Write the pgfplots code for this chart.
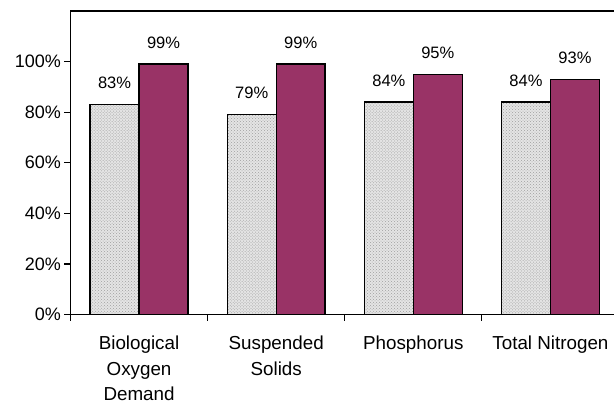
\documentclass[border=0pt]{standalone}
\usepackage{pgfplots}
\pgfplotsset{compat=1.18}
\usepackage{fontspec}
\setmainfont{Liberation Sans}
\usetikzlibrary{patterns}
\definecolor{effluent}{HTML}{993366}
\definecolor{dotfill}{HTML}{E4E4E4}

\begin{document}
\begin{tikzpicture}
\begin{axis}[
  scale only axis,
  width=548.5bp, height=303.5bp,
  xmin=-0.5, xmax=3.5,
  ymin=0, ymax=120,
  ybar=0pt,
  bar width=0.357,
  axis line style={line width=1.4bp},
  /pgf/number format/assume math mode=true,
  tick pos=left,
  tick align=outside,
  major tick length=6bp,
  tick style={black, line width=1.2bp},
  ytick={0,20,40,60,80,100},
  yticklabel={\pgfmathprintnumber{\tick}\%},
  yticklabel style={font=\fontsize{18bp}{20bp}\selectfont},
  xtick={-0.5,0.5,1.5,2.5,3.5},
  x tick label as interval,
  xticklabels={{Biological\\Oxygen\\Demand},{Suspended\\Solids},Phosphorus,Total Nitrogen},
  xticklabel style={align=center, yshift=-12bp, font=\fontsize{18.8bp}{25.5bp}\selectfont},
  nodes near coords={\pgfmathprintnumber{\pgfplotspointmeta}\%},
  nodes near coords style={anchor=base, yshift=16bp, font=\fontsize{16.5bp}{19bp}\selectfont, text=black},
  clip=false,
]
% influent removal (dotted) and effluent removal (solid)
\addplot[draw=black, line width=1.3bp, fill=dotfill,
  postaction={pattern=crosshatch dots, pattern color=gray!75}]
  coordinates {(0,83) (1,79) (2,84) (3,84)};
\addplot[draw=black, line width=1.3bp, fill=effluent]
  coordinates {(0,99) (1,99) (2,95) (3,93)};
\coordinate (ll) at (rel axis cs:0,0);
\end{axis}
\pgfresetboundingbox
\path[use as bounding box] ([shift={(-70.5bp,-89.5bp)}]ll) rectangle ([shift={(543.5bp,314.5bp)}]ll);
\end{tikzpicture}
\end{document}
